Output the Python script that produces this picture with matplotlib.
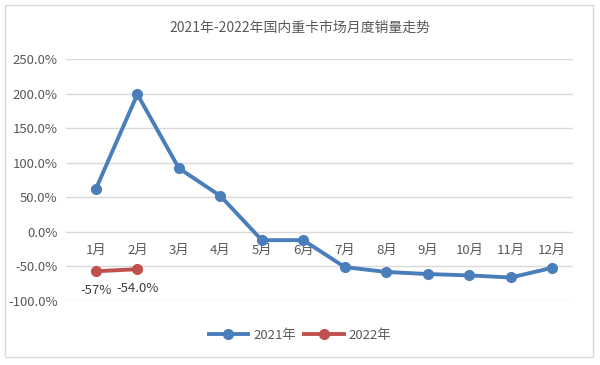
import matplotlib
matplotlib.use("Agg")
import matplotlib.pyplot as plt
from matplotlib.patches import Rectangle

plt.rcParams['font.family'] = ['Noto Sans CJK SC', 'DejaVu Sans']

months = ["1月", "2月", "3月", "4月", "5月", "6月", "7月", "8月", "9月", "10月", "11月", "12月"]
y2021 = [62, 199, 92, 52, -12, -12, -51, -58, -61, -63, -66, -52]
y2022 = [-57, -54]
labels2022 = ["-57%", "-54.0%"]
yticks = [-100, -50, 0, 50, 100, 150, 200, 250]

fig = plt.figure(figsize=(6, 3.65), dpi=100)
fig.patches.append(Rectangle((5/600, 1-357/365), 588/600, 352/365, transform=fig.transFigure,
                             fill=False, edgecolor="#d9d9d9", linewidth=1))
ax = fig.add_axes([66/600, 1-301/365, 507/600, 242/365])

x = list(range(len(months)))
ax.plot(x, y2021, color="#4a7ebb", linewidth=2.8, marker="o", markersize=7, label="2021年", zorder=3)
ax.plot(x[:len(y2022)], y2022, color="#c0504d", linewidth=2.8, marker="o", markersize=7, label="2022年", zorder=3)

for xi, yi, lab in zip(x, y2022, labels2022):
    ax.annotate(lab, (xi, yi), xytext=(0, -9), textcoords="offset points", ha="center", va="top",
                fontsize=9.5, color="#404040")

ax.set_xlim(-0.72, 11.5)
ax.set_ylim(-100, 250)
ax.set_yticks(yticks)
ax.set_yticklabels([f"{v:.1f}%" for v in yticks], fontsize=9.5, color="#595959")
ax.yaxis.grid(True, color="#d9d9d9", linewidth=1)
ax.set_axisbelow(True)
ax.tick_params(axis="y", length=0, pad=6)
ax.set_xticks([])
for s in ax.spines.values():
    s.set_visible(False)

for xi, m in zip(x, months):
    ax.text(xi, -27, m, ha="center", va="center", fontsize=9.5, color="#595959", zorder=2)

fig.text(0.5, 1-28/365, "2021年-2022年国内重卡市场月度销量走势", ha="center", va="center",
         fontsize=10, color="#595959")

fig.legend(loc="center", bbox_to_anchor=(0.5, 1-335/365), ncol=2, frameon=False, fontsize=9.5,
           handlelength=3, columnspacing=0.6, handletextpad=0.4, labelcolor="#595959")

fig.savefig("out.png", dpi=100)
